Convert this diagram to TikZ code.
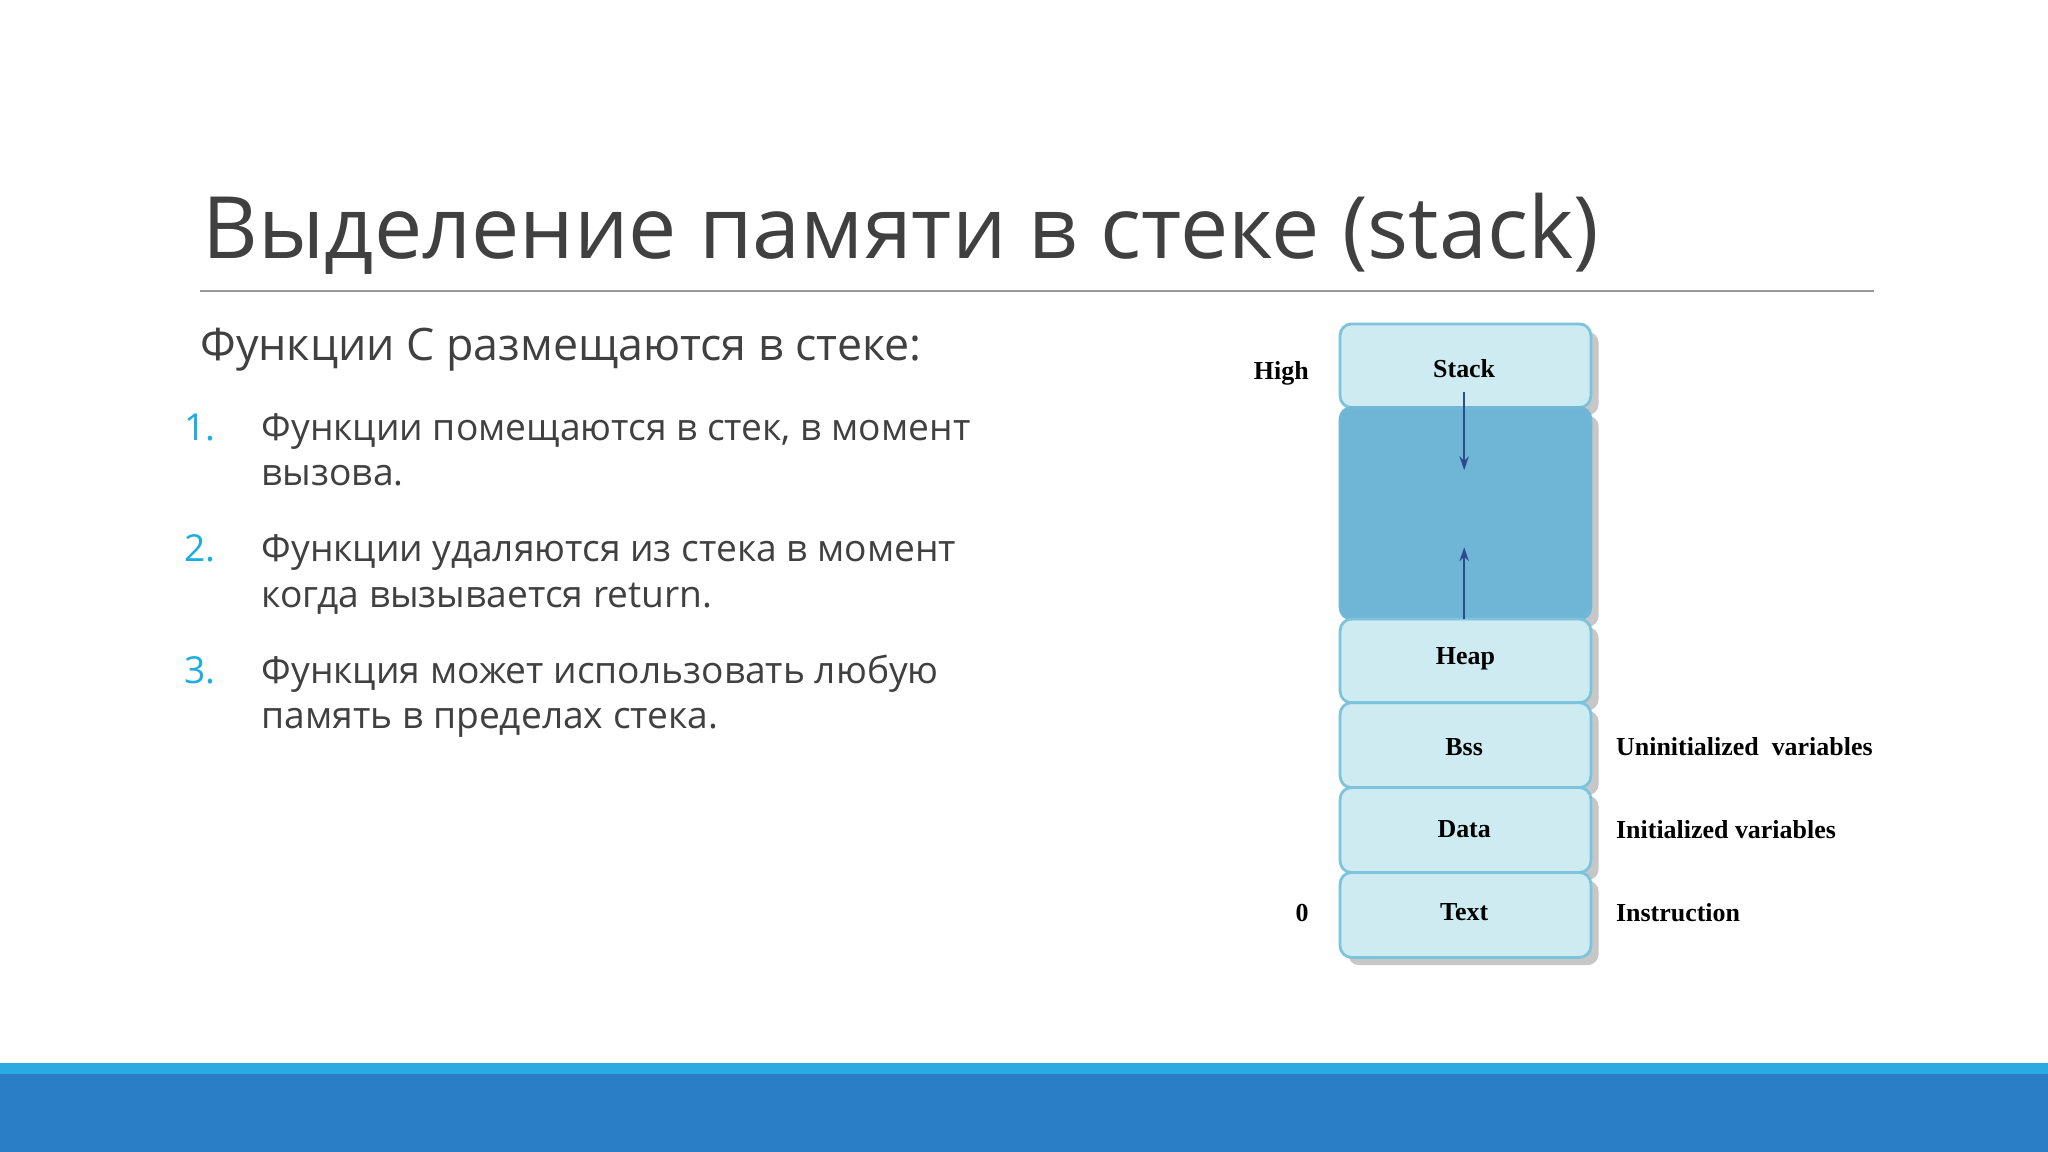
\documentclass[tikz,border=0pt]{standalone}
\usepackage{fontspec}
\usetikzlibrary{arrows.meta}
\setmainfont{Open Sans}
\newfontfamily\serifb{Liberation Serif}[Scale=1]
\definecolor{txt}{HTML}{404040}
\definecolor{num}{HTML}{1CADE4}
\definecolor{cellfill}{HTML}{CDEBF0}
\definecolor{celldraw}{HTML}{7CC3DD}
\definecolor{midfill}{HTML}{6EB5D6}
\definecolor{arr}{HTML}{2E4A8C}
\definecolor{barA}{HTML}{29ABE2}
\definecolor{barB}{HTML}{2A7FC4}
\tikzset{
 cell/.style={draw=celldraw,line width=1.2pt,fill=cellfill,rounded corners=5pt},
 shad/.style={fill=black!22,rounded corners=5pt},
 lab/.style={font=\serifb\bfseries\fontsize{11.3}{13}\selectfont,text=black},
 item/.style={anchor=base west,inner sep=0,font=\fontsize{16.2}{20}\selectfont,text=txt},
 nm/.style={anchor=base west,inner sep=0,font=\fontsize{16.2}{20}\selectfont,text=num},
 ar/.style={arr,line width=1pt,-{Stealth[length=6pt,width=4pt]}}
}
\begin{document}
\begin{tikzpicture}[x=0.02cm,y=-0.02cm]
\useasboundingbox (0,0) rectangle (1568,882);
\fill[white] (0,0) rectangle (1568,882);
\fill[barA] (0,814) rectangle (1568,822);
\fill[barB] (0,822) rectangle (1568,882);
\node[anchor=base west,inner sep=0,text=txt,font=\fontsize{37.5}{45}\selectfont] (title) at (155,198) {Выделение памяти в стеке (stack)};
\draw[black!40,line width=0.8pt] (153,223) -- (1435,223);
\node[anchor=base west,inner sep=0,text=txt,font=\fontsize{19.5}{23}\selectfont] (sub) at (153,276) {Функции С размещаются в стеке:};
\node[nm] (n1) at (141,337) {1.};
\node[item] (t1) at (200,337) {Функции помещаются в стек, в момент};
\node[item] (t1b) at (200,372) {вызова.};
\node[nm] (n2) at (141,430) {2.};
\node[item] (t2) at (200,430) {Функции удаляются из стека в момент};
\node[item] (t2b) at (200,465) {когда вызывается return.};
\node[nm] (n3) at (141,523) {3.};
\node[item] (t3) at (200,523) {Функция может использовать любую};
\node[item] (t3b) at (200,558) {память в пределах стека.};
% shadows
\foreach \a/\b in {248/312,312/474,474/538,538/603,603/668,668/733}
  \fill[shad] (1032,\a+6) rectangle (1224,\b+6);
\draw[cell] (1026,248) rectangle (1218,312);
\draw[cell,fill=midfill,draw=midfill!80!celldraw] (1026,312) rectangle (1218,474);
\draw[cell] (1026,474) rectangle (1218,538);
\draw[cell] (1026,538) rectangle (1218,603);
\draw[cell] (1026,603) rectangle (1218,668);
\draw[cell] (1026,668) rectangle (1218,733);
\node[lab] (stack) at (1121,282) {Stack};
\node[lab] (heap) at (1122,504) {Heap};
\node[lab] (bss) at (1121,572) {Bss};
\node[lab] (data) at (1121,635) {Data};
\node[lab] (text) at (1121,698) {Text};
\node[lab] (high) at (981,286) {High};
\node[lab] (zero) at (997,699) {0};
\node[lab,anchor=west,inner sep=0] (u) at (1237,572) {Uninitialized\ \ variables};
\node[lab,anchor=west,inner sep=0] (i) at (1237,635) {Initialized variables};
\node[lab,anchor=west,inner sep=0] (ins) at (1237,699) {Instruction};
\coordinate (a1) at (1121,300); \coordinate (a2) at (1121,360);
\coordinate (b1) at (1121,474); \coordinate (b2) at (1121,419);
\draw[ar] (a1) -- (a2);
\draw[ar] (b1) -- (b2);
\end{tikzpicture}
\end{document}
